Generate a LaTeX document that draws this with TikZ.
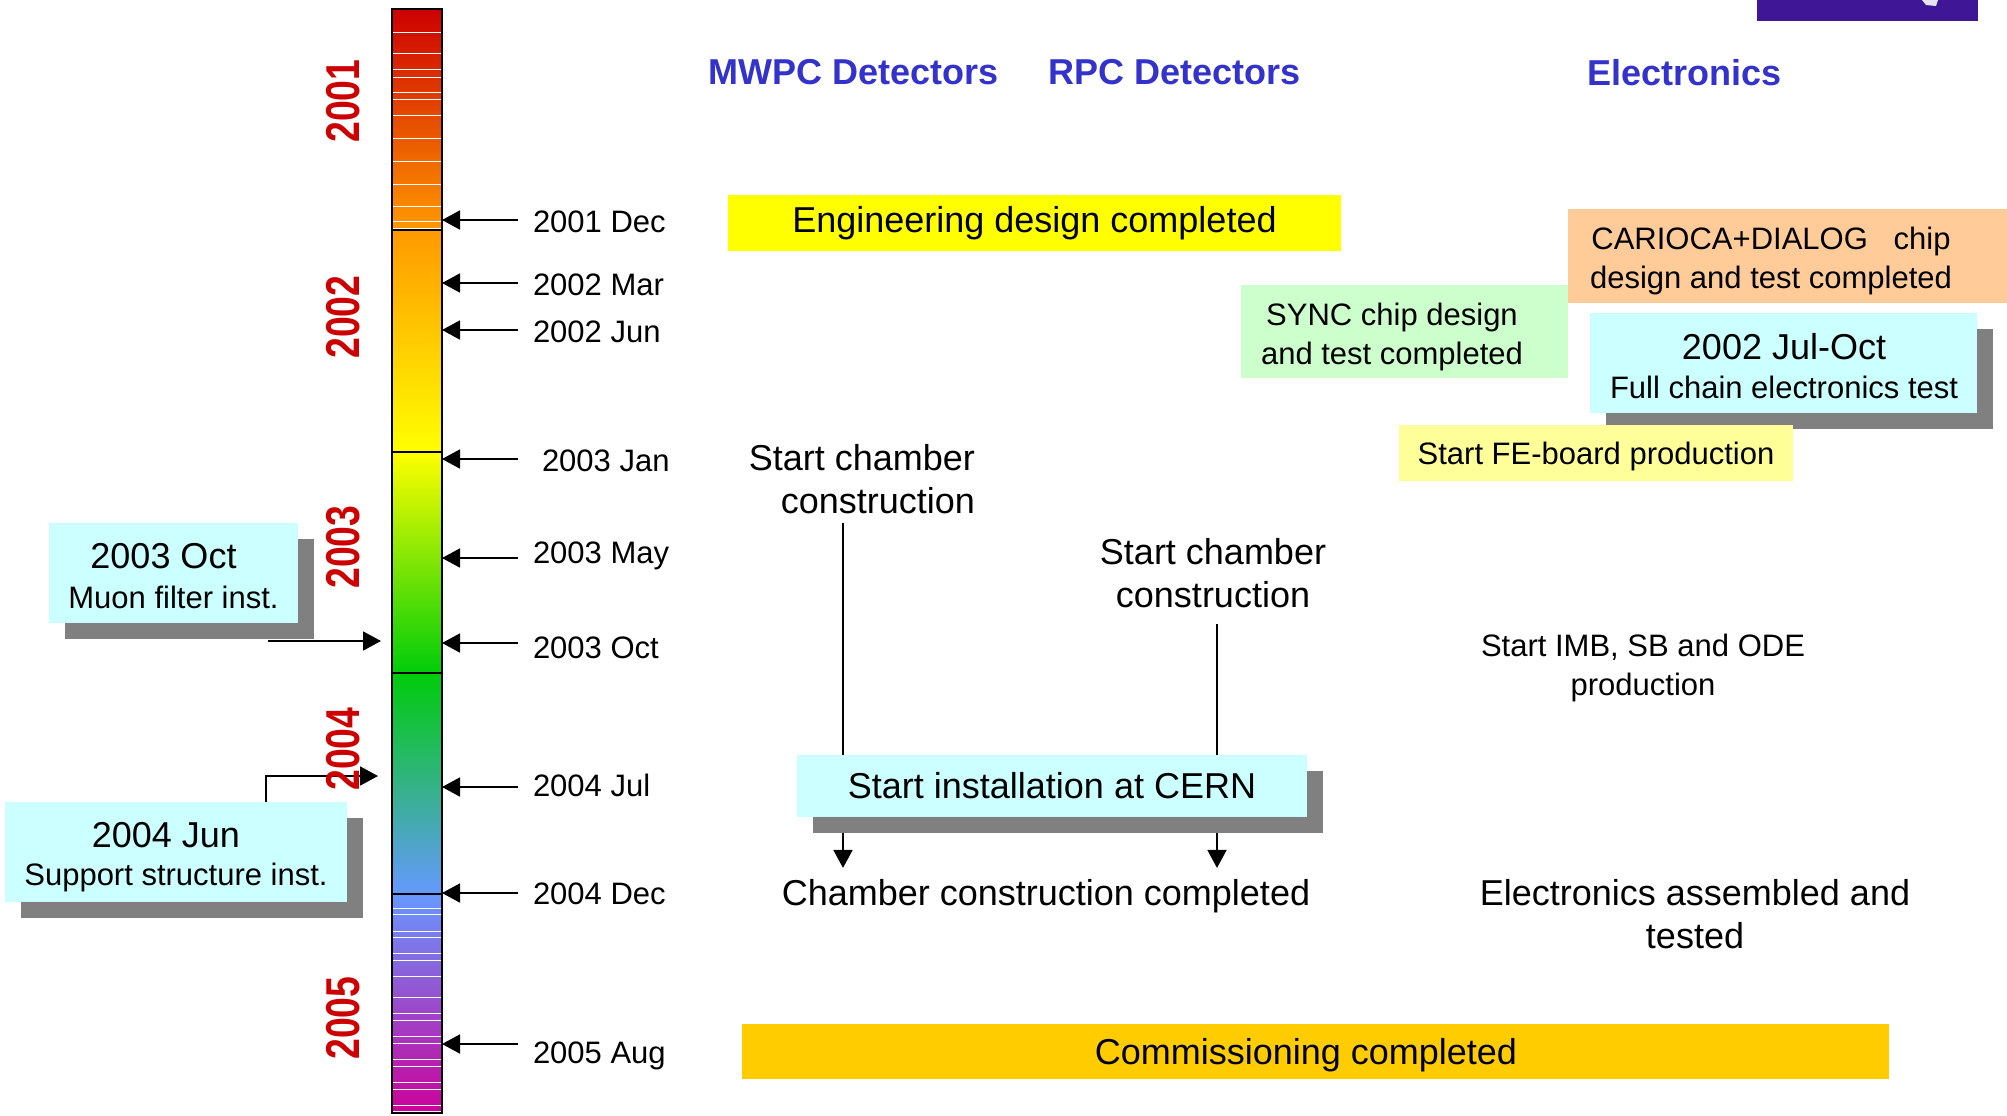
\documentclass[tikz,border=0pt]{standalone}
\usepackage{fontspec}
\usepackage{graphicx}
\setmainfont{Liberation Sans}
\usetikzlibrary{arrows.meta,shadows}
\definecolor{hdrblue}{RGB}{51,51,204}
\definecolor{yr}{RGB}{204,0,0}
\definecolor{cyanbox}{RGB}{204,255,255}
\definecolor{greenbox}{RGB}{204,255,204}
\definecolor{orangebox}{RGB}{255,204,153}
\definecolor{paleyel}{RGB}{255,255,153}
\definecolor{yelbox}{RGB}{255,255,0}
\definecolor{goldbox}{RGB}{255,204,0}
\definecolor{shadowgray}{RGB}{128,128,128}
\definecolor{logo}{RGB}{62,22,150}
\definecolor{ca}{RGB}{204,0,0}
\definecolor{cb}{RGB}{255,153,0}
\definecolor{cc}{RGB}{255,255,0}
\definecolor{cd}{RGB}{0,204,10}
\definecolor{ce}{RGB}{102,153,255}
\definecolor{cf}{RGB}{204,0,153}
\newcommand\fbig{\fontsize{18}{21.5}\selectfont}
\newcommand\fsmall{\fontsize{15.5}{19.25}\selectfont}
\begin{document}
\begin{tikzpicture}[x=0.5pt,y=-0.5pt,
  every node/.style={inner sep=0pt,outer sep=0pt},
  shad/.style={drop shadow={shadow xshift=8pt,shadow yshift=-8pt,fill=shadowgray,opacity=1}},
  arr/.style={line width=0.9pt,-{Triangle[length=9pt,width=9.5pt]}},
  hdr/.style={font=\fbig\bfseries,text=hdrblue,anchor=base},
  datelbl/.style={font=\fsmall,anchor=base west},
  yearlbl/.style={rotate=90,font=\fontsize{23.75}{28}\selectfont\bfseries,text=yr},
  bigtxt/.style={font=\fbig},
  smalltxt/.style={font=\fsmall}]
\useasboundingbox (0,0) rectangle (2007,1115);
% logo fragment
\fill[logo] (1757,0) rectangle (1978,21);
\fill[logo!12] (1922,0) -- (1938,0) -- (1936,6) -- (1926,5) -- cycle;
% colour bar
\shade[top color=ca,bottom color=cb] (392,9) rectangle (442,230);
\shade[top color=cb,bottom color=cc] (392,230) rectangle (442,452);
\shade[top color=cc,bottom color=cd] (392,452) rectangle (442,673);
\shade[top color=cd,bottom color=ce] (392,673) rectangle (442,894);
\shade[top color=ce,bottom color=cf] (392,894) rectangle (442,1113);
\foreach \y in {32,53,69,77,92,99,115,138,161,184,206,221,228,908,914,931,937,953,960,976,997,1013,1020,1036,1043,1059,1066,1082,1089,1105,1111}
  \draw[white,line width=0.5pt] (393,\y) -- (441,\y);
\foreach \y in {230,452,673,894}
  \draw[line width=1pt] (392,\y) -- (442,\y);
\node[draw,line width=1pt,minimum width=25pt,minimum height=552pt] (bar) at (417,561) {};
% date labels and arrows
\foreach \nm/\tx/\ty/\ay/\txt in {d1/533/221/220/2001 Dec,d2/533/284/283/2002 Mar,d3/533/331/330/2002 Jun,d4/542/460/459/2003 Jan,d5/533/552/558/2003 May,d6/533/647/643/2003 Oct,d7/533/785/787/2004 Jul,d8/533/893/893/2004 Dec,d9/533/1052/1044/2005 Aug}
{
  \node[datelbl] (\nm) at (\tx,\ty+11) {\txt};
  \coordinate (\nm s) at (518,\ay);
  \draw[arr] (\nm s) -- (bar.east |- \nm s);
}
% headers
\node[hdr] (mwpc) at (853.5,84) {MWPC Detectors};
\node[hdr] (rpc) at (1174.5,84) {RPC Detectors};
\node[hdr] (elec) at (1684.5,85) {Electronics};
% boxes right
\node[fill=yelbox,minimum width=306.5pt,minimum height=28pt,bigtxt] (eng) at (1034.5,223) {Engineering design completed};
\node[fill=orangebox,minimum width=219.5pt,minimum height=47pt] (cariocabox) at (1787.5,256) {};
\node[smalltxt,align=center] (carioca) at (1771,261) {CARIOCA+DIALOG\ \ \ chip\\design and test completed};
\node[fill=greenbox,minimum width=163.5pt,minimum height=46.5pt] (syncbox) at (1404.5,331.5) {};
\node[smalltxt,align=center] (sync) at (1392,337) {SYNC chip design\\and test completed};
\node[fill=cyanbox,shad,minimum width=193.5pt,minimum height=50pt] (juloctbox) at (1783.5,363) {};
\node[smalltxt,align=center] (juloct) at (1784,366) {{\fbig 2002 Jul-Oct}\\Full chain electronics test};
\node[fill=paleyel,minimum width=197pt,minimum height=28pt,smalltxt,text depth=0pt] (fe) at (1596,453) {Start FE-board production};
% free texts
\node[bigtxt,align=right,anchor=east] (mwpcstart) at (975,479) {Start chamber\\construction};
\node[bigtxt,align=center] (rpcstart) at (1213,573) {Start chamber\\construction};
\node[smalltxt,align=center] (imb) at (1643,668) {Start IMB, SB and ODE\\production};
\node[bigtxt,anchor=base] (ccc) at (1046,905) {Chamber construction completed};
\node[bigtxt,align=center] (elecdone) at (1695,914) {Electronics assembled and\\tested};
% vertical connectors
\coordinate (xm) at (843,0);
\coordinate (xr) at (1217,0);
\draw[arr,shorten <=4.5pt,shorten >=5.5pt] (xm |- mwpcstart.south) -- (xm |- ccc.north);
\draw[arr,shorten <=8pt,shorten >=5.5pt] (xr |- rpcstart.south) -- (xr |- ccc.north);
\node[fill=cyanbox,shad,minimum width=255pt,minimum height=31pt,bigtxt] (inst) at (1052,786) {Start installation at CERN};
\node[fill=goldbox,minimum width=573.5pt,minimum height=27.5pt] (commbox) at (1315.5,1051.5) {};
\node[bigtxt,anchor=base] (comm) at (1306,1064) {Commissioning completed};
% left boxes
\node[fill=cyanbox,shad,minimum width=124.5pt,minimum height=50pt] (octbox) at (173.5,573) {};
\node[align=center,font=\fontsize{15.5}{20}\selectfont] (oct) at (173.5,576) {{\fbig 2003 Oct}\hspace*{10pt}\\Muon filter inst.};
\node[fill=cyanbox,shad,minimum width=171pt,minimum height=50pt] (junbox) at (176,852) {};
\node[align=center,smalltxt] (jun) at (176,857) {{\fbig 2004 Jun}\hspace*{10pt}\\Support structure inst.};
\coordinate (octs) at (268,641);
\coordinate (octt) at (381,641);
\draw[arr] (octs) -- (octt);
\coordinate (junx) at (266,0);
\coordinate (junt) at (378,776);
\draw[arr] (junbox.north -| junx) |- (junt);
% year labels
\node[yearlbl] (y2001) at (343,101) {\scalebox{0.786}[1]{2001}};
\node[yearlbl] (y2002) at (343,317) {\scalebox{0.786}[1]{2002}};
\node[yearlbl] (y2003) at (343,547) {\scalebox{0.786}[1]{2003}};
\node[yearlbl] (y2004) at (343,749) {\scalebox{0.786}[1]{2004}};
\node[yearlbl] (y2005) at (343,1018) {\scalebox{0.786}[1]{2005}};
\end{tikzpicture}
\end{document}
